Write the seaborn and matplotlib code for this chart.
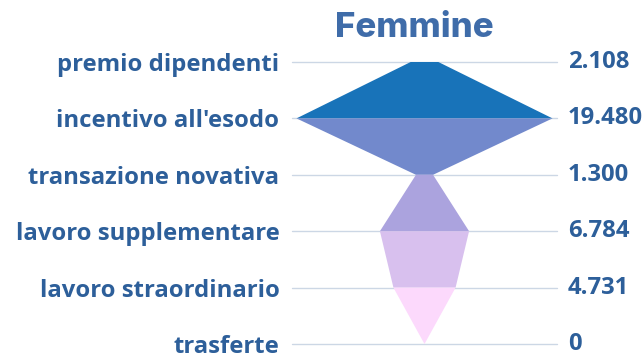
import matplotlib
matplotlib.use("Agg")
import matplotlib.pyplot as plt
import seaborn as sns
import numpy as np

categories = ["premio dipendenti", "incentivo all'esodo", "transazione novativa",
              "lavoro supplementare", "lavoro straordinario", "trasferte"]
values = [2108, 19480, 1300, 6784, 4731, 0]
value_labels = ["2.108", "19.480", "1.300", "6.784", "4.731", "0"]
title = "Femmine"
seg_colors = ["#1873b9", "#7289cc", "#aba3de", "#d8c0ee", "#fcd9fc"]

sns.set_theme(style="white")
plt.rcParams['font.family'] = ['Open Sans', 'DejaVu Sans']

W, H = 644, 356
fig = plt.figure(figsize=(W / 100, H / 100), dpi=100)
x0, x1 = 292, 557
y_top, y_bot = 62, 344
ax = fig.add_axes([x0 / W, (H - y_bot) / H, (x1 - x0) / W, (y_bot - y_top) / H])

n = len(categories)
vmax = max(values)
A = (vmax / 2) * ((x1 - x0) / 2) / 128.0

txt_color = "#2d5f9a"
for i in range(n):
    ax.axhline(i, color="#ccd7e5", lw=1.0, zorder=1, clip_on=False)

for i in range(n - 1):
    a, b = values[i] / 2, values[i + 1] / 2
    ax.fill([-a, a, b, -b], [i, i, i + 1, i + 1], color=seg_colors[i], lw=0, zorder=2)

ax.set_xlim(-A, A)
ax.set_ylim(n - 1, 0)

ax.set_yticks(range(n))
ax.set_yticklabels(categories)
ax.set_xticks([])
ax.tick_params(axis="y", length=0, pad=9)
for lab in ax.get_yticklabels():
    lab.set_fontsize(17.2)
    lab.set_fontweight("bold")
    lab.set_color(txt_color)

for i, v in enumerate(value_labels):
    ax.annotate(v, xy=(1, i), xycoords=("axes fraction", "data"), xytext=(11, 0),
                textcoords="offset pixels",
                ha="left", va="center", fontsize=17.2, fontweight="bold",
                color=txt_color, annotation_clip=False)

for s in ax.spines.values():
    s.set_visible(False)

fig.text(414 / W, (H - 28) / H, title, ha="center", va="center", fontsize=25,
         fontweight="heavy", color="#3f6ca9", family=["Inter", "DejaVu Sans"])

fig.savefig("out.png", dpi=100, facecolor="white")
